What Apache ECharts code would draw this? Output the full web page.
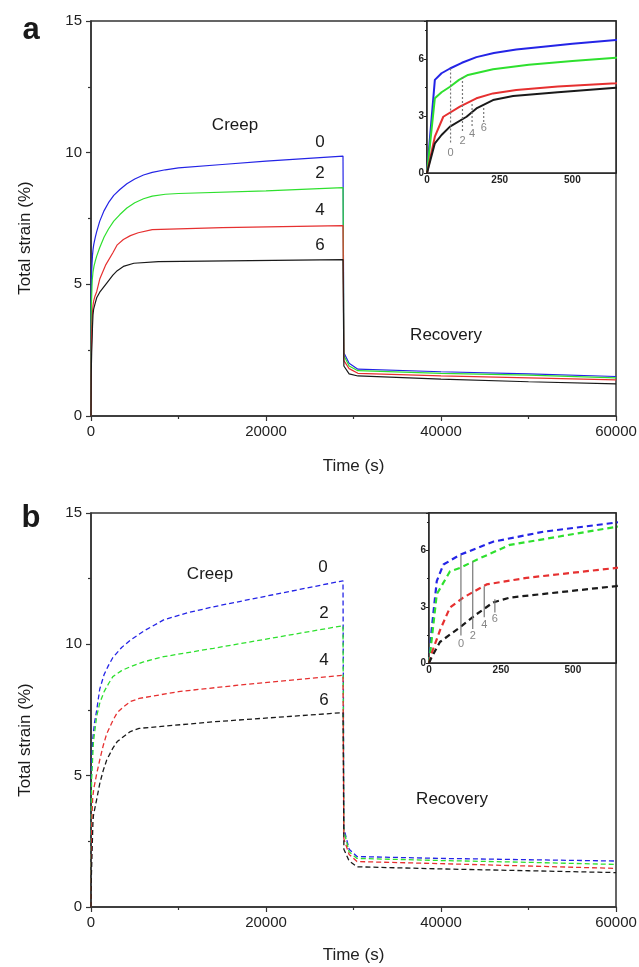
<!DOCTYPE html>
<html><head><meta charset="utf-8">
<script src="https://cdn.jsdelivr.net/npm/echarts@6/dist/echarts.min.js"></script>
<style>html,body{margin:0;padding:0;background:#fff}#c{width:639px;height:967px}</style>
</head><body><div id="c"></div>
<script>
// ---- data: [time (s), total strain (%)] ----
const labelsA = ['0', '2', '4', '6'];
const colors = ['#2424e6', '#2ee02e', '#e63030', '#1a1a1a'];

const a0 = [[0,0],[27,4.9],[50,5.25],[79,5.5],[120,5.8],[170,6.1],[230,6.32],[307,6.5],[400,6.65],[500,6.8],[650,7.0],[1000,7.4],[1500,7.8],[2000,8.1],[2600,8.38],[3300,8.6],[4100,8.82],[5000,9.0],[6000,9.15],[7000,9.25],[8500,9.35],[10000,9.42],[15000,9.55],[20000,9.68],[28800,9.87],[28900,2.4],[29500,2.0],[30500,1.78],[40000,1.68],[50000,1.6],[60000,1.5]];
const a2 = [[0,0],[27,3.93],[50,4.25],[79,4.54],[110,4.9],[141,5.16],[227,5.46],[350,5.7],[500,5.9],[650,6.07],[1000,6.4],[1500,6.8],[2000,7.1],[2600,7.4],[3300,7.65],[4100,7.9],[5000,8.1],[6000,8.25],[7000,8.35],[8500,8.42],[10000,8.45],[20000,8.55],[28800,8.67],[28900,2.3],[29500,1.9],[30500,1.72],[40000,1.62],[50000,1.55],[60000,1.45]];
const a4 = [[0,0],[27,1.91],[56,2.96],[113,3.49],[170,3.93],[227,4.19],[307,4.37],[450,4.55],[650,4.72],[1000,5.2],[1700,5.75],[2500,6.2],[3000,6.5],[3700,6.7],[4500,6.85],[5400,6.96],[7000,7.08],[15000,7.15],[28800,7.23],[28900,2.1],[29500,1.8],[30500,1.62],[40000,1.52],[50000,1.45],[60000,1.37]];
const a6 = [[0,0],[27,1.56],[50,2.0],[79,2.44],[136,2.96],[170,3.4],[227,3.84],[296,4.05],[450,4.25],[650,4.49],[1000,4.7],[1800,5.05],[2500,5.35],[3000,5.52],[3700,5.68],[4900,5.8],[7700,5.86],[28800,5.94],[28900,1.9],[29500,1.6],[30500,1.52],[40000,1.4],[50000,1.3],[60000,1.22]];

const b0 = [[0,0],[9,1.74],[27,4.37],[50,5.25],[108,5.77],[223,6.47],[397,7.0],[650,7.49],[1000,8.3],[1500,8.85],[2000,9.2],[2500,9.5],[3500,9.88],[4500,10.16],[6000,10.5],[8300,10.93],[11000,11.2],[14000,11.43],[21600,11.94],[28800,12.42],[28900,3.0],[29500,2.2],[30400,1.92],[40000,1.85],[50000,1.8],[60000,1.75]];
const b2 = [[0,0],[9,1.21],[27,3.67],[73,4.89],[108,5.07],[166,5.51],[281,6.3],[650,7.26],[1000,7.76],[1500,8.2],[2000,8.5],[2500,8.77],[3500,9.0],[4500,9.15],[6000,9.33],[8300,9.53],[14000,9.85],[21600,10.29],[28800,10.71],[28900,2.9],[29500,2.1],[30400,1.85],[40000,1.77],[50000,1.7],[60000,1.62]];
const b4 = [[0,0],[9,0.51],[38,1.74],[73,2.96],[119,3.49],[200,4.19],[339,4.54],[650,5.07],[1000,5.6],[1400,6.15],[1800,6.6],[2500,7.1],[3000,7.4],[3700,7.62],[4500,7.82],[5500,7.94],[10000,8.2],[17000,8.45],[28800,8.82],[28900,2.6],[29500,2.0],[30400,1.73],[40000,1.65],[50000,1.56],[60000,1.47]];
const b6 = [[0,0],[9,0.3],[38,1.12],[108,1.91],[166,2.61],[223,3.23],[281,3.49],[650,4.1],[1000,4.7],[1400,5.2],[1800,5.6],[2500,6.05],[3000,6.3],[3700,6.48],[4500,6.68],[5500,6.8],[14000,7.05],[28800,7.4],[28900,2.2],[29500,1.75],[30400,1.53],[40000,1.45],[50000,1.38],[60000,1.31]];

// inset marker lines: time, top strain, bottom strain, label strain
const insetMarkA = { t:[81,122,155,195], top:[5.5,5.05,3.63,3.42], bottom:[1.58,2.16,2.42,2.63], lab:[1.05,1.68,2.05,2.37] };
const insetMarkB = { t:[111,152,192,229], top:[5.77,5.42,4.1,3.4], bottom:[1.47,1.82,2.44,2.7], lab:[1.04,1.42,2.05,2.35] };

const mainXTicks = {min:0, max:60000, interval:20000};
const mainYTicks = {min:0, max:15, interval:5};
const insetXTicks = {min:0, max:650, interval:250};
const insetYTicks = {min:0, max:8, interval:3};

const font = 'Arial, "Liberation Sans", Helvetica, sans-serif';
const axisCol = '#333';
const plain = v => String(v);

function mainX(gi, gap){
  return {gridIndex:gi, type:'value', min:mainXTicks.min, max:mainXTicks.max, interval:mainXTicks.interval,
    name:'Time (s)', nameLocation:'middle', nameGap:gap,
    nameTextStyle:{fontFamily:font, fontSize:17, color:'#222'},
    axisLine:{onZero:false, lineStyle:{color:axisCol, width:1.5}},
    axisTick:{inside:false, length:5, lineStyle:{color:axisCol, width:1.2}},
    minorTick:{show:true, splitNumber:2, length:3, lineStyle:{color:axisCol, width:1.2}},
    splitLine:{show:false},
    axisLabel:{fontFamily:font, fontSize:15, color:'#222', margin:8, formatter:plain}};
}
function mainY(gi){
  return {gridIndex:gi, type:'value', min:mainYTicks.min, max:mainYTicks.max, interval:mainYTicks.interval,
    axisLine:{onZero:false, lineStyle:{color:axisCol, width:1.5}},
    axisTick:{inside:false, length:5, lineStyle:{color:axisCol, width:1.2}},
    minorTick:{show:true, splitNumber:2, length:3, lineStyle:{color:axisCol, width:1.2}},
    splitLine:{show:false},
    axisLabel:{fontFamily:font, fontSize:15, color:'#222', margin:9, formatter:plain}};
}
function insetX(gi){
  return {gridIndex:gi, type:'value', min:insetXTicks.min, max:insetXTicks.max, interval:insetXTicks.interval,
    axisLine:{onZero:false, lineStyle:{color:'#222', width:1.5}},
    axisTick:{inside:true, length:3, lineStyle:{color:'#222'}},
    minorTick:{show:true, splitNumber:2, length:2, lineStyle:{color:'#222'}},
    splitLine:{show:false},
    axisLabel:{fontFamily:font, fontSize:10, fontWeight:'bold', color:'#222', margin:2, showMaxLabel:false, formatter:plain}};
}
function insetY(gi){
  return {gridIndex:gi, type:'value', min:insetYTicks.min, max:insetYTicks.max, interval:insetYTicks.interval,
    axisLine:{onZero:false, lineStyle:{color:'#222', width:1.5}},
    axisTick:{inside:false, length:3, lineStyle:{color:'#222'}},
    minorTick:{show:true, splitNumber:2, length:2, lineStyle:{color:'#222'}},
    splitLine:{show:false},
    axisLabel:{fontFamily:font, fontSize:10, fontWeight:'bold', color:'#222', margin:3, showMaxLabel:false, formatter:plain}};
}

const series = [];
function addLines(sets, axisIdx, width, dash){
  sets.forEach((d, i) => {
    series.push({type:'line', xAxisIndex:axisIdx, yAxisIndex:axisIdx, data:d, showSymbol:false, symbol:'none',
      clip:true, z:3,
      lineStyle:{color:colors[i], width:width, type: dash || 'solid'}, silent:true, animation:false});
  });
}
addLines([a0,a2,a4,a6], 0, 1.2);
addLines([a0,a2,a4,a6], 1, 2);
addLines([b0,b2,b4,b6], 2, 1.3, [5,3]);
addLines([b0,b2,b4,b6], 3, 2.2, [6,4]);

function addMarks(m, axisIdx, lineType){
  m.t.forEach((t, i) => {
    series.push({type:'line', xAxisIndex:axisIdx, yAxisIndex:axisIdx, data:[[t,m.top[i]],[t,m.bottom[i]]],
      showSymbol:false, symbol:'none', z:4, animation:false, silent:true,
      lineStyle:{color:'#777', width:1.2, type:lineType}});
  });
  series.push({type:'scatter', xAxisIndex:axisIdx, yAxisIndex:axisIdx, symbolSize:0, z:5, animation:false, silent:true,
    data:m.t.map((t,i)=>({value:[t,m.lab[i]], name:labelsA[i]})),
    label:{show:true, position:'inside', formatter:p=>p.name, fontFamily:font, fontSize:11, color:'#666'}});
}
addMarks(insetMarkA, 1, [2,2]);
addMarks(insetMarkB, 3, 'solid');

function txt(x, y, s, size, extra){
  return Object.assign({type:'text', x:x, y:y, z:10,
    style:{text:s, x:0, y:0, fill:'#1a1a1a', font: (extra && extra.bold ? 'bold ' : '') + size + 'px ' + font,
      textAlign:'center', textVerticalAlign:'middle'}}, extra && extra.rot ? {rotation:extra.rot} : {});
}

const graphic = [
  txt(31, 30, 'a', 31, {bold:true}),
  txt(31, 518, 'b', 31, {bold:true}),
  txt(25, 238, 'Total strain (%)', 17, {rot:Math.PI/2}),
  txt(25, 740, 'Total strain (%)', 17, {rot:Math.PI/2}),
  txt(235, 125, 'Creep', 17), txt(320, 142, '0', 17), txt(320, 173, '2', 17), txt(320, 210, '4', 17), txt(320, 245, '6', 17),
  txt(446, 335, 'Recovery', 17),
  txt(210, 574, 'Creep', 17), txt(323, 567, '0', 17), txt(324, 613, '2', 17), txt(324, 660, '4', 17), txt(324, 700, '6', 17),
  txt(452, 799, 'Recovery', 17)
];

const chart = echarts.init(document.getElementById('c'), null, {renderer:'canvas'});
chart.setOption({
  backgroundColor:'#fff',
  animation:false,
  grid:[
    {left:91, top:21, width:525, height:395, show:true, borderColor:axisCol, borderWidth:1.5, backgroundColor:'transparent', outerBoundsMode:'none', containLabel:false},
    {left:427, top:21, width:189, height:152, show:true, borderColor:'#222', borderWidth:1.5, backgroundColor:'#fff', z:2, outerBoundsMode:'none', containLabel:false},
    {left:91, top:513, width:525, height:394, show:true, borderColor:axisCol, borderWidth:1.5, backgroundColor:'transparent', outerBoundsMode:'none', containLabel:false},
    {left:429, top:513, width:187, height:150, show:true, borderColor:'#222', borderWidth:1.5, backgroundColor:'#fff', z:2, outerBoundsMode:'none', containLabel:false}
  ],
  xAxis:[mainX(0, 42), insetX(1), mainX(2, 40), insetX(3)],
  yAxis:[mainY(0), insetY(1), mainY(2), insetY(3)],
  series:series,
  graphic:graphic
});
</script></body></html>
